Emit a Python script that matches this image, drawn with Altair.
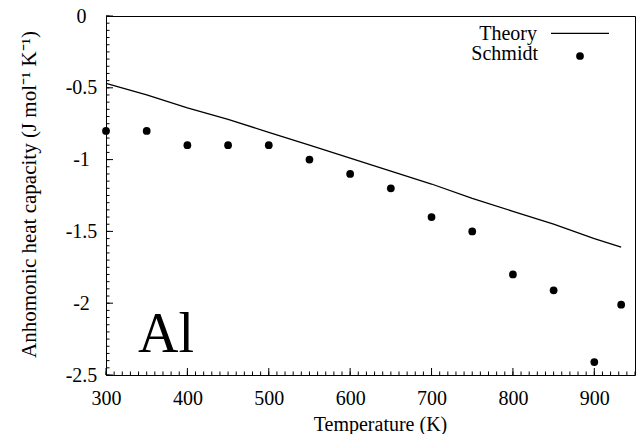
import altair as alt
import pandas as pd
import numpy as np

# Data
schmidt_T = [300, 350, 400, 450, 500, 550, 600, 650, 700, 750, 800, 850, 900, 933]
schmidt_cp = [-0.80, -0.80, -0.90, -0.90, -0.90, -1.00, -1.10, -1.20, -1.40, -1.50, -1.80, -1.91, -2.41, -2.01]

theory_T = [300, 350, 400, 450, 500, 550, 600, 650, 700, 750, 800, 850, 900, 933]
theory_cp = [-0.47, -0.55, -0.64, -0.72, -0.81, -0.90, -0.99, -1.08, -1.17, -1.27, -1.36, -1.45, -1.55, -1.61]

x_ticks = [300, 400, 500, 600, 700, 800, 900]
y_ticks = [0, -0.5, -1, -1.5, -2, -2.5]

W, H = 529, 359
FONT = "Liberation Serif"

df_s = pd.DataFrame({"T": schmidt_T, "cp": schmidt_cp})
df_t = pd.DataFrame({"T": theory_T, "cp": theory_cp})

xs = alt.Scale(domain=[300, 950], nice=False, zero=False)
ys = alt.Scale(domain=[-2.5, 0], nice=False, zero=False)

x_axis = alt.Axis(values=x_ticks, title="Temperature (K)", labelExpr="datum.value + ''",
                  labelFlush=False, labelBaseline="middle", labelPadding=23,
                  titleX=274, titleY=55, titleBaseline="alphabetic", titleFontSize=20)
y_axis = alt.Axis(values=y_ticks, title="Anhomonic heat capacity (J mol\u207b\u00b9 K\u207b\u00b9)",
                  labelExpr="datum.value + ''", labelFlush=False, labelAlign="center",
                  labelBaseline="middle", labelPadding=25,
                  titleX=-71, titleY=178, titleBaseline="alphabetic", titleFontSize=21)

theory = alt.Chart(df_t).mark_line(color="black", strokeWidth=1.3).encode(
    x=alt.X("T:Q", scale=xs, axis=x_axis),
    y=alt.Y("cp:Q", scale=ys, axis=y_axis),
)
points = alt.Chart(df_s).mark_circle(color="black", size=60, opacity=1).encode(
    x=alt.X("T:Q", scale=xs),
    y=alt.Y("cp:Q", scale=ys),
)

# inward ticks
xminor = pd.DataFrame({"T": np.arange(300, 951, 10)})
xmajor = pd.DataFrame({"T": x_ticks})
yminor = pd.DataFrame({"cp": np.round(np.arange(-2.5, 0.001, 0.05), 2)})
ymajor = pd.DataFrame({"cp": y_ticks})

xmin_r = alt.Chart(xminor).mark_rule(color="black", strokeWidth=1).encode(
    x=alt.X("T:Q", scale=xs), y=alt.value(H), y2=alt.value(H - 3.5))
xmaj_r = alt.Chart(xmajor).mark_rule(color="black", strokeWidth=1).encode(
    x=alt.X("T:Q", scale=xs), y=alt.value(H), y2=alt.value(H - 7))
ymin_r = alt.Chart(yminor).mark_rule(color="black", strokeWidth=1).encode(
    y=alt.Y("cp:Q", scale=ys), x=alt.value(0), x2=alt.value(3.5))
ymaj_r = alt.Chart(ymajor).mark_rule(color="black", strokeWidth=1).encode(
    y=alt.Y("cp:Q", scale=ys), x=alt.value(0), x2=alt.value(7))

one = pd.DataFrame({"a": [0]})
leg_t1 = alt.Chart(one).mark_text(font=FONT, fontSize=20, align="right", baseline="alphabetic", color="black").encode(
    x=alt.value(431), y=alt.value(24), text=alt.value("Theory"))
leg_t2 = alt.Chart(one).mark_text(font=FONT, fontSize=20, align="right", baseline="alphabetic", color="black").encode(
    x=alt.value(432), y=alt.value(43.5), text=alt.value("Schmidt"))
leg_line = alt.Chart(one).mark_rule(color="black", strokeWidth=1.3).encode(
    x=alt.value(445), x2=alt.value(503), y=alt.value(17.3))
leg_dot = alt.Chart(one).mark_point(filled=True, color="black", size=60, opacity=1, shape="circle").encode(
    x=alt.value(474), y=alt.value(40))
label_al = alt.Chart(one).mark_text(font=FONT, fontSize=56, align="left", baseline="alphabetic", color="black").encode(
    x=alt.value(32), y=alt.value(335.7), text=alt.value("Al"))

chart = alt.layer(
    theory, points, xmin_r, xmaj_r, ymin_r, ymaj_r, leg_t1, leg_t2, leg_line, leg_dot, label_al
).properties(
    width=W, height=H,
    autosize=alt.AutoSizeParams(type="none"),
    padding={"left": 98, "top": 8, "right": 1, "bottom": 59},
    background="white",
).configure_view(
    stroke="black", strokeWidth=1
).configure_axis(
    domain=False, ticks=False, grid=False,
    labelFont=FONT, titleFont=FONT, labelFontSize=20, labelColor="black",
    titleColor="black", titleFontWeight="normal", labelOverlap=False,
)

chart.save("out.html", embed_options={"renderer": "svg", "actions": False})
